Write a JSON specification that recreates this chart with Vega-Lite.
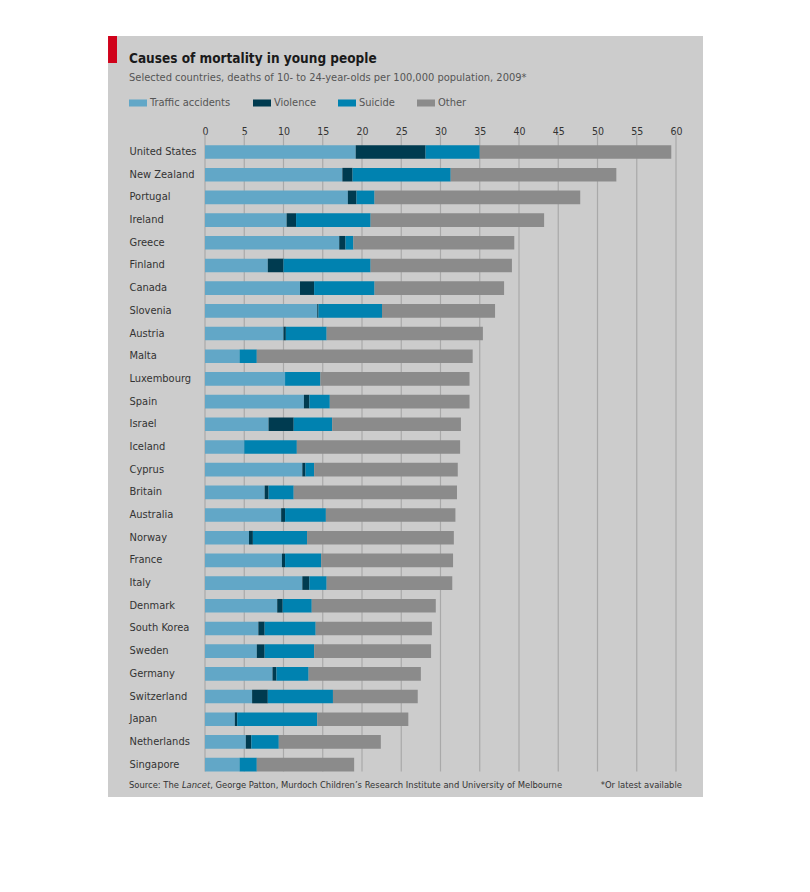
{
  "$schema": "https://vega.github.io/schema/vega-lite/v6.json",
  "width": 595,
  "height": 761,
  "autosize": {"type": "none"},
  "padding": {"left": 108, "top": 36, "right": 107, "bottom": 95},
  "background": "#ffffff",
  "config": {
    "font": "DejaVu Sans Condensed, DejaVu Sans, sans-serif",
    "view": {"fill": "#cccccc", "stroke": null}
  },
  "title": {
    "text": "Causes of mortality in young people",
    "subtitle": "Selected countries, deaths of 10- to 24-year-olds per 100,000 population, 2009*",
    "anchor": "start",
    "frame": "group",
    "orient": "top",
    "offset": -51,
    "dx": 21,
    "fontSize": 13.5,
    "fontWeight": "bold",
    "color": "#1a1a1a",
    "subtitleFontSize": 11,
    "subtitleColor": "#555555",
    "subtitlePadding": 6
  },
  "datasets": {
    "deaths": [
      {"country": "United States", "Traffic accidents": 19.2, "Violence": 8.9, "Suicide": 6.9, "Other": 24.4},
      {"country": "New Zealand", "Traffic accidents": 17.5, "Violence": 1.3, "Suicide": 12.5, "Other": 21.1},
      {"country": "Portugal", "Traffic accidents": 18.2, "Violence": 1.1, "Suicide": 2.3, "Other": 26.2},
      {"country": "Ireland", "Traffic accidents": 10.4, "Violence": 1.2, "Suicide": 9.5, "Other": 22.1},
      {"country": "Greece", "Traffic accidents": 17.1, "Violence": 0.8, "Suicide": 1.0, "Other": 20.5},
      {"country": "Finland", "Traffic accidents": 8.0, "Violence": 2.0, "Suicide": 11.1, "Other": 18.0},
      {"country": "Canada", "Traffic accidents": 12.1, "Violence": 1.8, "Suicide": 7.7, "Other": 16.5},
      {"country": "Slovenia", "Traffic accidents": 14.3, "Violence": 0.15, "Suicide": 8.1, "Other": 14.4},
      {"country": "Austria", "Traffic accidents": 10.0, "Violence": 0.3, "Suicide": 5.2, "Other": 19.9},
      {"country": "Malta", "Traffic accidents": 4.4, "Violence": 0, "Suicide": 2.2, "Other": 27.5},
      {"country": "Luxembourg", "Traffic accidents": 10.2, "Violence": 0, "Suicide": 4.5, "Other": 19.0},
      {"country": "Spain", "Traffic accidents": 12.6, "Violence": 0.7, "Suicide": 2.6, "Other": 17.8},
      {"country": "Israel", "Traffic accidents": 8.1, "Violence": 3.2, "Suicide": 4.9, "Other": 16.4},
      {"country": "Iceland", "Traffic accidents": 5.0, "Violence": 0, "Suicide": 6.7, "Other": 20.8},
      {"country": "Cyprus", "Traffic accidents": 12.4, "Violence": 0.4, "Suicide": 1.1, "Other": 18.3},
      {"country": "Britain", "Traffic accidents": 7.6, "Violence": 0.5, "Suicide": 3.2, "Other": 20.8},
      {"country": "Australia", "Traffic accidents": 9.7, "Violence": 0.5, "Suicide": 5.2, "Other": 16.5},
      {"country": "Norway", "Traffic accidents": 5.6, "Violence": 0.5, "Suicide": 6.9, "Other": 18.7},
      {"country": "France", "Traffic accidents": 9.8, "Violence": 0.4, "Suicide": 4.6, "Other": 16.8},
      {"country": "Italy", "Traffic accidents": 12.4, "Violence": 0.9, "Suicide": 2.2, "Other": 16.0},
      {"country": "Denmark", "Traffic accidents": 9.2, "Violence": 0.7, "Suicide": 3.7, "Other": 15.8},
      {"country": "South Korea", "Traffic accidents": 6.8, "Violence": 0.8, "Suicide": 6.5, "Other": 14.8},
      {"country": "Sweden", "Traffic accidents": 6.6, "Violence": 1.0, "Suicide": 6.3, "Other": 14.9},
      {"country": "Germany", "Traffic accidents": 8.6, "Violence": 0.5, "Suicide": 4.1, "Other": 14.3},
      {"country": "Switzerland", "Traffic accidents": 6.0, "Violence": 2.0, "Suicide": 8.3, "Other": 10.8},
      {"country": "Japan", "Traffic accidents": 3.8, "Violence": 0.3, "Suicide": 10.2, "Other": 11.6},
      {"country": "Netherlands", "Traffic accidents": 5.2, "Violence": 0.7, "Suicide": 3.5, "Other": 13.0},
      {"country": "Singapore", "Traffic accidents": 4.4, "Violence": 0, "Suicide": 2.2, "Other": 12.4}
    ],
    "causes": [
      {"cause": "Traffic accidents", "rank": 1},
      {"cause": "Violence", "rank": 2},
      {"cause": "Suicide", "rank": 3},
      {"cause": "Other", "rank": 4}
    ],
    "ticks": [
      {"t": 0}, {"t": 5}, {"t": 10}, {"t": 15}, {"t": 20}, {"t": 25}, {"t": 30},
      {"t": 35}, {"t": 40}, {"t": 45}, {"t": 50}, {"t": 55}, {"t": 60}
    ]
  },
  "layer": [
    {
      "data": {"name": "ticks"},
      "mark": {"type": "rule", "color": "#a9a9a9", "strokeWidth": 1.2},
      "encoding": {
        "x": {"field": "t", "type": "quantitative", "title": null},
        "y": {"datum": "United States", "type": "nominal", "bandPosition": -0.8},
        "y2": {"datum": "Singapore", "bandPosition": 1}
      }
    },
    {
      "data": {"name": "deaths"},
      "transform": [
        {"fold": ["Traffic accidents", "Violence", "Suicide", "Other"], "as": ["cause", "deaths"]},
        {"lookup": "cause", "from": {"data": {"name": "causes"}, "key": "cause", "fields": ["rank"]}}
      ],
      "mark": {"type": "bar"},
      "encoding": {
        "x": {
          "field": "deaths",
          "type": "quantitative",
          "stack": "zero",
          "title": null,
          "scale": {"domain": [-12.357, 63.44], "nice": false, "zero": false},
          "axis": {
            "orient": "top",
            "offset": -100,
            "values": [0, 5, 10, 15, 20, 25, 30, 35, 40, 45, 50, 55, 60],
            "grid": false,
            "ticks": false,
            "tickSize": 0,
            "domain": false,
            "labelPadding": 0,
            "labelFontSize": 10.5,
            "labelColor": "#333333",
            "labelFlush": false,
            "title": null
          }
        },
        "y": {
          "field": "country",
          "type": "nominal",
          "title": null,
          "scale": {
            "domain": ["United States", "New Zealand", "Portugal", "Ireland", "Greece", "Finland", "Canada", "Slovenia", "Austria", "Malta", "Luxembourg", "Spain", "Israel", "Iceland", "Cyprus", "Britain", "Australia", "Norway", "France", "Italy", "Denmark", "South Korea", "Sweden", "Germany", "Switzerland", "Japan", "Netherlands", "Singapore"],
            "range": [109.2, 735.4],
            "paddingInner": 0.4,
            "paddingOuter": 0
          },
          "axis": {
            "orient": "left",
            "ticks": false,
            "tickSize": 0,
            "domain": false,
            "grid": false,
            "labelAlign": "left",
            "labelPadding": -21,
            "labelFontSize": 11,
            "labelColor": "#333333",
            "title": null
          }
        },
        "color": {
          "field": "cause",
          "type": "nominal",
          "scale": {
            "domain": ["Traffic accidents", "Violence", "Suicide", "Other"],
            "range": ["#62a7c7", "#003b50", "#0082b0", "#8b8b8b"]
          },
          "legend": {
            "orient": "none",
            "legendX": 21,
            "legendY": 58,
            "direction": "horizontal",
            "columns": 4,
            "title": null,
            "symbolType": "M-1,-0.39H1V0.39H-1Z",
            "symbolSize": 324,
            "symbolStrokeWidth": 0,
            "symbolOpacity": 1,
            "labelFontSize": 11,
            "labelColor": "#555555",
            "columnPadding": 22,
            "labelOffset": 3,
            "padding": 0
          }
        },
        "order": {"field": "rank", "type": "quantitative"}
      }
    },
    {
      "data": {"values": [{}]},
      "mark": {"type": "rule", "color": "#d0021b", "strokeWidth": 9, "strokeCap": "butt"},
      "encoding": {
        "x": {"datum": -11.78, "type": "quantitative"},
        "y": {"datum": "United States", "type": "nominal", "bandPosition": -8.02},
        "y2": {"datum": "United States", "bandPosition": -6.04}
      }
    },
    {
      "data": {"values": [{}]},
      "mark": {"type": "text", "align": "left", "baseline": "middle", "fontSize": 9.35, "color": "#333333"},
      "encoding": {
        "text": {"value": "Source: The"},
        "x": {"datum": -9.68, "type": "quantitative"},
        "y": {"datum": "Singapore", "type": "nominal", "bandPosition": 2.0}
      }
    },
    {
      "data": {"values": [{}]},
      "mark": {"type": "text", "align": "left", "baseline": "middle", "fontSize": 9.35, "fontStyle": "italic", "color": "#333333"},
      "encoding": {
        "text": {"value": "Lancet"},
        "x": {"datum": -2.94, "type": "quantitative"},
        "y": {"datum": "Singapore", "type": "nominal", "bandPosition": 2.0}
      }
    },
    {
      "data": {"values": [{}]},
      "mark": {"type": "text", "align": "left", "baseline": "middle", "fontSize": 9.35, "color": "#333333"},
      "encoding": {
        "text": {"value": ", George Patton, Murdoch Children’s Research Institute and University of Melbourne"},
        "x": {"datum": 0.66, "type": "quantitative"},
        "y": {"datum": "Singapore", "type": "nominal", "bandPosition": 2.0}
      }
    },
    {
      "data": {"values": [{}]},
      "mark": {"type": "text", "align": "right", "baseline": "middle", "fontSize": 9.35, "color": "#333333"},
      "encoding": {
        "text": {"value": "*Or latest available"},
        "x": {"datum": 60.76, "type": "quantitative"},
        "y": {"datum": "Singapore", "type": "nominal", "bandPosition": 2.0}
      }
    }
  ]
}
